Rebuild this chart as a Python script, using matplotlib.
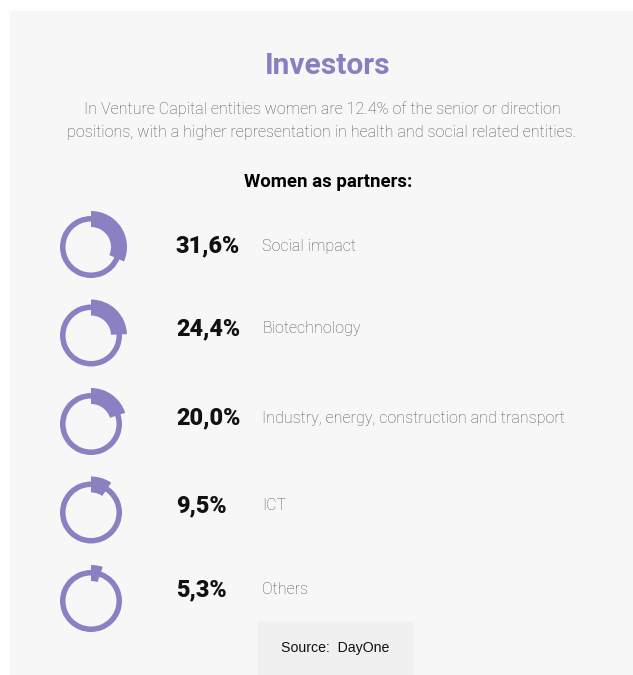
import matplotlib
matplotlib.use("Agg")
import matplotlib.pyplot as plt
from matplotlib.patches import Wedge, Rectangle

# data
sectors = ["Social impact", "Biotechnology",
           "Industry, energy, construction and transport", "ICT", "Others"]
shares = [31.6, 24.4, 20.0, 9.5, 5.3]
share_labels = ["31,6%", "24,4%", "20,0%", "9,5%", "5,3%"]

PURPLE = "#8a80c2"
W, H = 633, 675

fig = plt.figure(figsize=(W / 100, H / 100), dpi=100)
fig.patch.set_facecolor("white")
ax = fig.add_axes([0, 0, 1, 1])
ax.set_xlim(0, W)
ax.set_ylim(0, H)
ax.set_aspect("equal")
ax.axis("off")

def Y(py):
    # pixel row from top -> data y
    return H - py

# panel background
ax.add_patch(Rectangle((10, 0), W - 10, Y(11), color="#f7f7f7", zorder=0))

ax.text(328, Y(66), "Investors", ha="center", va="center", fontsize=21.5,
        fontweight="bold", color="#897fc0", family="Roboto")
ax.text(322, Y(109), "In Venture Capital entities women are 12.4% of the senior or direction",
        ha="center", va="center", fontsize=11.6, color="#555555",
        family="Roboto", fontweight="light")
ax.text(322, Y(133), "positions, with a higher representation in health and social related entities.",
        ha="center", va="center", fontsize=11.6, color="#555555",
        family="Roboto", fontweight="light")
ax.text(328, Y(182), "Women as partners:", ha="center", va="center", fontsize=13.4,
        fontweight="bold", color="black", family="Roboto")

cx = 91
text_rows = [246, 329, 418, 506, 590]
for i, (name, v, lab) in enumerate(zip(sectors, shares, share_labels)):
    cy = Y(247 + 88.5 * i)
    # thin ring
    ax.add_patch(Wedge((cx, cy), 31, 0, 360, width=5.5, color=PURPLE, lw=0, zorder=2))
    # thick share arc, clockwise from 12 o'clock
    ax.add_patch(Wedge((cx, cy), 36, 90 - 3.6 * v, 90, width=16,
                       color=PURPLE, lw=0, zorder=3))
    ty = Y(text_rows[i])
    ax.text(176, ty, lab, ha="left", va="center", fontsize=16.8,
            fontweight="heavy", color="#111111", family="Roboto")
    ax.text(262, ty, name, ha="left", va="center", fontsize=11.5,
            color="#555555", family="Roboto", fontweight="light")

# source box
ax.add_patch(Rectangle((258, 0), 154, Y(622), color="#f0f0f0", zorder=1))
ax.text(335, Y(648), "Source:  DayOne", ha="center", va="center", fontsize=10.2,
        color="#111111", family="Liberation Sans", zorder=2)

fig.savefig("out.png", dpi=100, facecolor=fig.get_facecolor())
